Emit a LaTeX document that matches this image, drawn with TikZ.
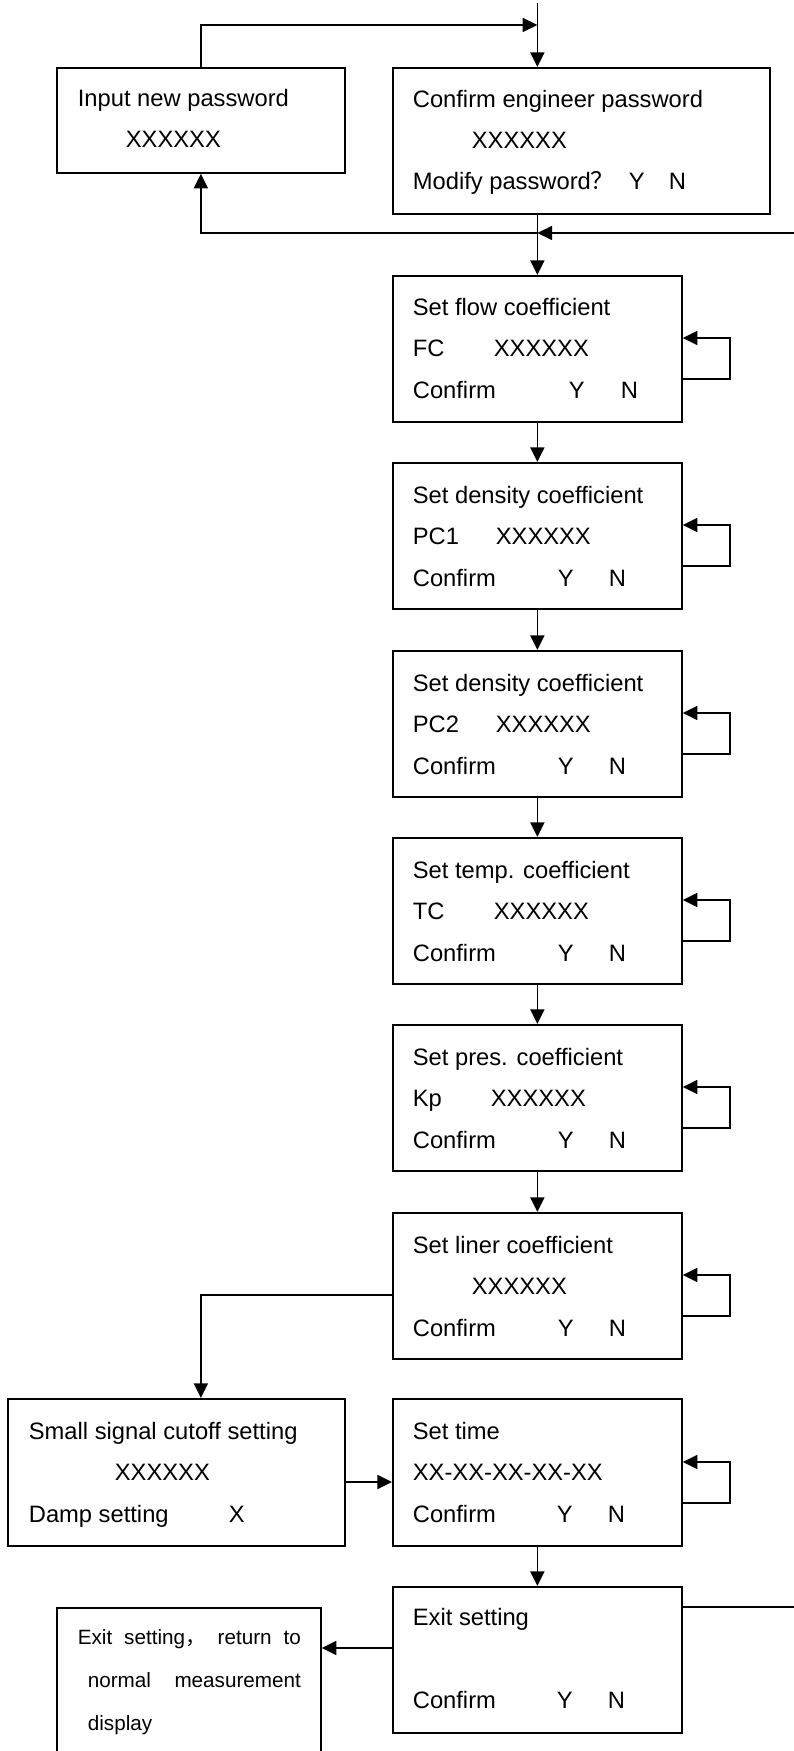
\documentclass[tikz,border=0pt]{standalone}
\usepackage{fontspec}
\setmainfont{Liberation Sans}
\newfontfamily\cjk{Noto Sans CJK SC}
\usetikzlibrary{arrows.meta, calc}
\newdimen\pxu
\pxu=0.75pt
\newcommand{\tab}[2]{\makebox[#1\pxu][l]{#2}}

\begin{document}
\begin{tikzpicture}[x=0.75pt, y=-0.75pt, line width=1.3pt,
  >={Triangle[length=11pt, width=10.5pt]},
  panel/.style={draw, rectangle, anchor=north west, inner sep=0pt,
                minimum width=289*\pxu, minimum height=146*\pxu},
  txt/.style={anchor=base west, align=left, inner sep=0pt,
              font=\fontsize{17.8pt}{31.1pt}\selectfont},
  smalltxt/.style={anchor=base west, align=left, inner sep=0pt,
                   font=\fontsize{15.5pt}{31.9pt}\selectfont}]
  \useasboundingbox (0,0) rectangle (793,1751);

  % Password boxes (text placed by its last baseline)
  \node[panel, minimum width=288*\pxu, minimum height=105*\pxu] (inpw) at (56,67) {};
  \node[panel, minimum width=377*\pxu] (engpw) at (392,67) {};
  \node[txt] (inpwt) at ($(inpw.north west)+(21,81)$)
    {Input new password\\\hspace*{48\pxu}XXXXXX};
  \node[txt] (engpwt) at ($(engpw.north west)+(20,123)$)
    {Confirm engineer password\\\hspace*{59\pxu}XXXXXX\\
     \tab{216}{Modify password{\cjk ？}}\tab{40}{Y}N};

  % Coefficient boxes
  \node[panel] (flow) at (392,275) {};
  \node[panel] (dens1) at (392,462) {};
  \node[panel] (dens2) at (392,650) {};
  \node[panel] (temp) at (392,837) {};
  \node[panel] (pres) at (392,1024) {};
  \node[panel] (liner) at (392,1212) {};
  \node[txt] (flowt) at ($(flow.north west)+(20,123)$)
    {Set flow coefficient\\\tab{81}{FC}XXXXXX\\\tab{156}{Confirm}\tab{52}{Y}N};
  \node[txt] (dens1t) at ($(dens1.north west)+(20,124)$)
    {Set density coefficient\\\tab{83}{PC1}XXXXXX\\\tab{145}{Confirm}\tab{51}{Y}N};
  \node[txt] (dens2t) at ($(dens2.north west)+(20,124)$)
    {Set density coefficient\\\tab{83}{PC2}XXXXXX\\\tab{145}{Confirm}\tab{51}{Y}N};
  \node[txt] (tempt) at ($(temp.north west)+(20,124)$)
    {Set temp. coefficient\\\tab{81}{TC}XXXXXX\\\tab{145}{Confirm}\tab{51}{Y}N};
  \node[txt] (prest) at ($(pres.north west)+(20,124)$)
    {Set pres. coefficient\\\tab{78}{Kp}XXXXXX\\\tab{145}{Confirm}\tab{51}{Y}N};
  \node[txt] (linert) at ($(liner.north west)+(20,124)$)
    {Set liner coefficient\\\hspace*{59\pxu}XXXXXX\\\tab{145}{Confirm}\tab{51}{Y}N};

  % Lower boxes
  \node[panel, minimum width=337*\pxu, minimum height=147*\pxu] (small) at (7,1398) {};
  \node[panel, minimum height=147*\pxu] (time) at (392,1398) {};
  \node[panel] (exit) at (392,1586) {};
  \node[panel, minimum width=264*\pxu, minimum height=160*\pxu] (rtn) at (56,1607) {};
  \node[txt] (smallt) at ($(small.north west)+(21,124)$)
    {Small signal cutoff setting\\\hspace*{86\pxu}XXXXXX\\\tab{200}{Damp setting}X};
  \node[txt] (timet) at ($(time.north west)+(20,124)$)
    {Set time\\XX-XX-XX-XX-XX\\\tab{144}{Confirm}\tab{51}{Y}N};
  \node[txt] (exitt) at ($(exit.north west)+(20,122)$)
    {Exit setting\\\mbox{}\\\tab{144}{Confirm}\tab{51}{Y}N};
  \node[smalltxt] (rtnt) at ($(rtn.north west)+(21,123)$)
    {\makebox[223\pxu][s]{Exit\hfill setting{\cjk ，}\hfill return\hfill to}\\
     \hspace*{10\pxu}\makebox[213\pxu][s]{normal\hfill measurement}\\
     \hspace*{10\pxu}display};

  % Entry and password connectors
  \coordinate (top) at (flow.north |- 0,3);
  \coordinate (in1) at (flow.north |- 0,25);
  \coordinate (back) at (flow.north |- 0,233);
  \draw[->] (top) -- (top |- engpw.north);
  \draw[->] (inpw.north) |- (in1);
  \draw (back |- engpw.south) -- (back);
  \draw[->] (back) -- (flow.north);
  \draw[->] (back) -| (inpw.south);

  % Main chain
  \draw[->] (flow) -- (dens1);
  \draw[->] (dens1) -- (dens2);
  \draw[->] (dens2) -- (temp);
  \draw[->] (temp) -- (pres);
  \draw[->] (pres) -- (liner);
  \draw[->] (time) -- (exit);

  % Self loops
  \draw[->] ($(flow.north east)+(0,104)$) -- ++(47,0) |- ($(flow.north east)+(0,63)$);
  \draw[->] ($(dens1.north east)+(0,104)$) -- ++(47,0) |- ($(dens1.north east)+(0,63)$);
  \draw[->] ($(dens2.north east)+(0,104)$) -- ++(47,0) |- ($(dens2.north east)+(0,63)$);
  \draw[->] ($(temp.north east)+(0,104)$) -- ++(47,0) |- ($(temp.north east)+(0,63)$);
  \draw[->] ($(pres.north east)+(0,104)$) -- ++(47,0) |- ($(pres.north east)+(0,63)$);
  \draw[->] ($(liner.north east)+(0,104)$) -- ++(47,0) |- ($(liner.north east)+(0,63)$);
  \draw[->] ($(time.north east)+(0,105)$) -- ++(47,0) |- ($(time.north east)+(0,64)$);

  % Side branches
  \draw[->] ($(liner.north west)+(0,83)$) -| (inpw.south |- small.north);
  \draw[->] ($(small.north east)+(0,84)$) -- ($(time.north west)+(0,84)$);
  \coordinate (ex) at ($(exit.north west)+(0,62)$);
  \draw[->] (ex) -- (ex -| rtn.east);
  \draw[->] ($(exit.north east)+(0,21)$) -- ($(exit.north east)+(114,21)$) |- (back);
\end{tikzpicture}
\end{document}
